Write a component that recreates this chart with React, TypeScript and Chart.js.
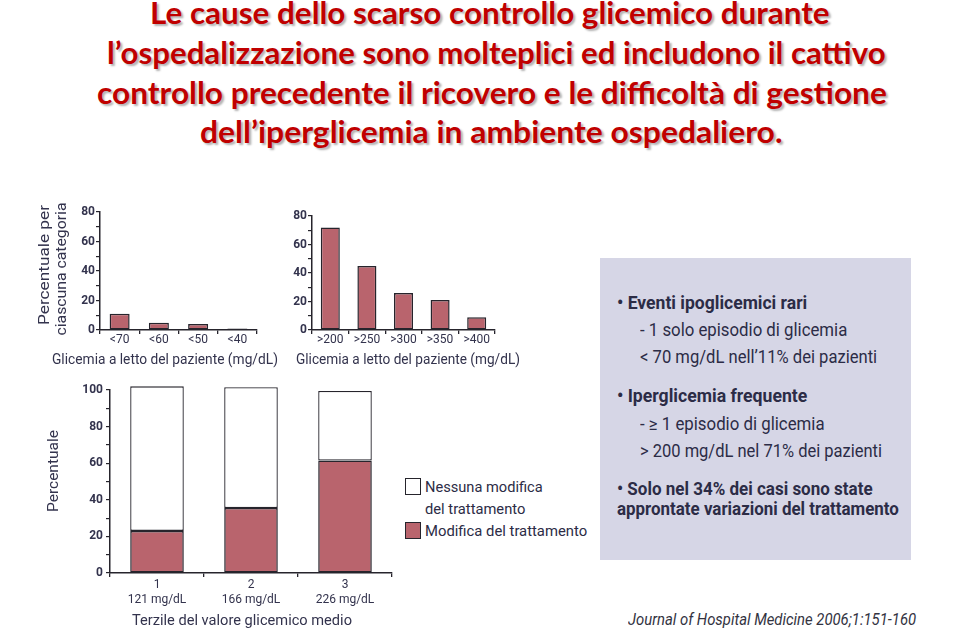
import React, { useEffect, useLayoutEffect, useRef, useState } from "react";
import { Chart, registerables } from "chart.js";

Chart.register(...registerables);

// ---------- data ----------
const hypoCategories = ["<70", "<60", "<50", "<40"];
const hypoValues = [11, 5, 4, 1];

const hyperCategories = [">200", ">250", ">300", ">350", ">400"];
const hyperValues = [72, 45, 26, 21, 9];

const tertileLabels = [
  ["1", "121 mg/dL"],
  ["2", "166 mg/dL"],
  ["3", "226 mg/dL"],
];
const modifiedValues = [23, 35.5, 61.5];
const unmodifiedValues = [79, 66, 38];

const seriesNames = ["Modifica del trattamento", "Nessuna modifica del trattamento"];
const bedsideAxisTitle = "Glicemia a letto del paziente (mg/dL)";
const tertileAxisTitle = "Terzile del valore glicemico medio";

const titleLines = [
  "Le cause dello scarso controllo glicemico durante",
  "l\u2019ospedalizzazione sono molteplici ed includono il cattivo",
  "controllo precedente il ricovero e le difficolt\u00e0 di gestione",
  "dell\u2019iperglicemia in ambiente ospedaliero.",
];

// ---------- style ----------
const AXIS = "#26242c";
const TEXT = "#33334d";
const BAR = "#b9646d";
const RED = "#c00000";
const FONT = 'Roboto, "Liberation Sans", sans-serif';

// condensed axis titles drawn on the canvas
const axisTitlePlugin = {
  id: "axisTitles",
  afterDraw(chart: any, _args: any, opts: any) {
    const ctx = chart.ctx;
    for (const t of opts.items || []) {
      ctx.save();
      ctx.font = `${t.weight || "normal"} ${t.size}px ${FONT}`;
      ctx.fillStyle = TEXT;
      ctx.textAlign = "center";
      ctx.textBaseline = "middle";
      const w = ctx.measureText(t.text).width;
      ctx.translate(t.x, t.y);
      if (t.rotate) ctx.rotate(-Math.PI / 2);
      ctx.scale(t.width / w, 1);
      ctx.fillText(t.text, 0, 0);
      ctx.restore();
    }
  },
};

type ChartSpec = {
  left: number;
  top: number;
  width: number;
  height: number;
  config: () => any;
};

function ChartBox({ left, top, width, height, config }: ChartSpec) {
  const ref = useRef<HTMLCanvasElement | null>(null);
  useEffect(() => {
    if (!ref.current) return;
    const chart = new Chart(ref.current, config());
    return () => chart.destroy();
  }, []);
  return (
    <div style={{ position: "absolute", left, top, width, height }}>
      <canvas ref={ref} width={width} height={height} style={{ width, height, display: "block" }} />
    </div>
  );
}

function scales(o: {
  yMax: number;
  yWidth: number;
  xHeight: number;
  yTickPad: number;
  stacked?: boolean;
  xTickPad: number;
}) {
  return {
    x: {
      stacked: !!o.stacked,
      border: { display: true, color: AXIS, width: 1.5 },
      grid: {
        display: true,
        drawOnChartArea: false,
        drawTicks: true,
        tickLength: 4,
        offset: true,
        color: AXIS,
        lineWidth: 1.3,
      },
      ticks: {
        autoSkip: false,
        maxRotation: 0,
        padding: o.xTickPad,
        color: TEXT,
        font: { family: FONT, size: 12, lineHeight: 1.2 },
      },
      afterFit: (s: any) => {
        s.height = o.xHeight;
      },
    },
    y: {
      stacked: !!o.stacked,
      min: 0,
      max: o.yMax,
      border: { display: true, color: AXIS, width: 1.5 },
      grid: {
        display: true,
        drawOnChartArea: false,
        drawTicks: true,
        tickLength: 4,
        color: AXIS,
        lineWidth: 1.2,
      },
      ticks: {
        stepSize: 10,
        autoSkip: false,
        padding: o.yTickPad,
        color: TEXT,
        font: { family: FONT, size: 12, weight: "bold" },
        callback: (v: number) => (v % 20 === 0 ? String(v) : ""),
      },
      afterFit: (s: any) => {
        s.width = o.yWidth;
      },
    },
  };
}

const basePlugins = { legend: { display: false }, tooltip: { enabled: false } };

const hypoChart: ChartSpec = {
  left: 0,
  top: 195,
  width: 280,
  height: 180,
  config: () => ({
    type: "bar",
    plugins: [axisTitlePlugin],
    data: {
      labels: hypoCategories,
      datasets: [
        {
          data: hypoValues,
          backgroundColor: BAR,
          borderColor: AXIS,
          borderWidth: 1.5,
          borderSkipped: false,
          barPercentage: 0.51,
          categoryPercentage: 1,
        },
      ],
    },
    options: {
      responsive: false,
      animation: false,
      events: [],
      layout: { padding: { top: 17, right: 23, left: 0, bottom: 0 } },
      plugins: {
        ...basePlugins,
        axisTitles: {
          items: [
            { text: bedsideAxisTitle, x: 165, y: 165, width: 226, size: 15 },
            { text: "Percentuale per", x: 45, y: 70, width: 120, size: 15, rotate: true },
            { text: "ciascuna categoria", x: 62, y: 74, width: 133, size: 15, rotate: true },
          ],
        },
      },
      scales: scales({ yMax: 80, yWidth: 100, xHeight: 45, yTickPad: 1, xTickPad: -1 }),
    },
  }),
};

const hyperChart: ChartSpec = {
  left: 280,
  top: 195,
  width: 250,
  height: 180,
  config: () => ({
    type: "bar",
    plugins: [axisTitlePlugin],
    data: {
      labels: hyperCategories,
      datasets: [
        {
          data: hyperValues,
          backgroundColor: BAR,
          borderColor: AXIS,
          borderWidth: 1.5,
          borderSkipped: false,
          barPercentage: 0.52,
          categoryPercentage: 1,
        },
      ],
    },
    options: {
      responsive: false,
      animation: false,
      events: [],
      layout: { padding: { top: 21, right: 35, left: 0, bottom: 0 } },
      plugins: {
        ...basePlugins,
        axisTitles: {
          items: [{ text: bedsideAxisTitle, x: 128, y: 165, width: 224, size: 15 }],
        },
      },
      scales: scales({ yMax: 80, yWidth: 32, xHeight: 45, yTickPad: 1, xTickPad: -1 }),
    },
  }),
};

const tertileChart: ChartSpec = {
  left: 30,
  top: 375,
  width: 370,
  height: 260,
  config: () => ({
    type: "bar",
    plugins: [axisTitlePlugin],
    data: {
      labels: tertileLabels,
      datasets: [
        {
          label: seriesNames[0],
          data: modifiedValues,
          backgroundColor: BAR,
          borderColor: AXIS,
          borderWidth: 1.5,
          borderSkipped: false,
          barPercentage: 0.57,
          categoryPercentage: 1,
        },
        {
          label: seriesNames[1],
          data: unmodifiedValues,
          backgroundColor: "#ffffff",
          borderColor: AXIS,
          borderWidth: 1.3,
          borderSkipped: false,
          barPercentage: 0.57,
          categoryPercentage: 1,
          clip: false,
        },
      ],
    },
    options: {
      responsive: false,
      animation: false,
      events: [],
      layout: { padding: { top: 15, right: 8, left: 0, bottom: 0 } },
      plugins: {
        ...basePlugins,
        axisTitles: {
          items: [
            { text: tertileAxisTitle, x: 212, y: 246, width: 220, size: 15 },
            { text: "Percentuale", x: 24, y: 96, width: 82, size: 15, rotate: true },
          ],
        },
      },
      scales: scales({ yMax: 100, yWidth: 80, xHeight: 62, yTickPad: 3, stacked: true, xTickPad: 1 }),
    },
  }),
};

// HTML text squeezed to a target width (condensed look)
function FitText({
  x,
  y,
  width,
  size,
  bold,
  italic,
  color,
  family,
  lineHeight,
  shadow,
  children,
}: {
  x: number;
  y: number;
  width: number;
  size: number;
  bold?: boolean;
  italic?: boolean;
  color?: string;
  family?: string;
  lineHeight?: number;
  shadow?: string;
  children: React.ReactNode;
}) {
  const ref = useRef<HTMLDivElement | null>(null);
  const [sx, setSx] = useState(1);
  const lh = lineHeight || Math.round(size * 1.25);
  useLayoutEffect(() => {
    const el = ref.current;
    if (!el) return;
    const measure = () => {
      const w = el.offsetWidth;
      if (w > 0) setSx(width / w);
    };
    measure();
    const f: any = (document as any).fonts;
    if (f && f.ready) f.ready.then(measure);
  }, []);
  return (
    <div
      ref={ref}
      style={{
        position: "absolute",
        left: x,
        top: y - lh / 2,
        whiteSpace: "nowrap",
        fontFamily: family || FONT,
        fontSize: size,
        fontWeight: bold ? 700 : 400,
        fontStyle: italic ? "italic" : "normal",
        color: color || "#2c2c46",
        lineHeight: `${lh}px`,
        transform: `scaleX(${sx})`,
        transformOrigin: "0 50%",
        textShadow: shadow,
      }}
    >
      {children}
    </div>
  );
}

export default function App() {
  useEffect(() => {
    document.body.style.margin = "0";
  }, []);
  const titleSpans = [
    [150, 680],
    [107, 779],
    [97, 790],
    [200, 583],
  ];
  const titleCenters = [12, 52, 92, 131];
  return (
    <div
      style={{
        position: "fixed",
        left: 0,
        top: 0,
        width: 959,
        height: 643,
        background: "#ffffff",
        overflow: "hidden",
      }}
    >
      {titleLines.map((t, i) => (
        <FitText
          key={i}
          x={titleSpans[i][0]}
          y={titleCenters[i]}
          width={titleSpans[i][1]}
          size={30}
          bold
          color={RED}
          family="Lato, 'Open Sans', sans-serif"
          lineHeight={40}
          shadow="2px 2px 2px rgba(0,0,0,0.3)"
        >
          {t}
        </FitText>
      ))}

      <ChartBox {...hypoChart} />
      <ChartBox {...hyperChart} />
      <ChartBox {...tertileChart} />

      {/* legend */}
      <div
        style={{
          position: "absolute",
          left: 405,
          top: 478,
          width: 16,
          height: 17,
          background: "#fff",
          border: `1.5px solid ${AXIS}`,
          boxSizing: "border-box",
        }}
      />
      <div
        style={{
          position: "absolute",
          left: 405,
          top: 522,
          width: 16,
          height: 17,
          background: BAR,
          border: `1.5px solid ${AXIS}`,
          boxSizing: "border-box",
        }}
      />
      <FitText x={425} y={487} width={118} size={15}>Nessuna modifica</FitText>
      <FitText x={425} y={509} width={100} size={15}>del trattamento</FitText>
      <FitText x={425} y={531} width={162} size={15}>{seriesNames[0]}</FitText>

      {/* text box */}
      <div style={{ position: "absolute", left: 600, top: 258, width: 311, height: 302, background: "#d6d6e6" }} />
      <FitText x={617} y={302} width={190} size={18} bold>{"\u2022 Eventi ipoglicemici rari"}</FitText>
      <FitText x={640} y={329} width={207} size={18}>- 1 solo episodio di glicemia</FitText>
      <FitText x={640} y={356} width={237} size={18}>{"< 70 mg/dL nell\u201911% dei pazienti"}</FitText>
      <FitText x={617} y={395} width={190} size={18} bold>{"\u2022  Iperglicemia frequente"}</FitText>
      <FitText x={640} y={423} width={185} size={18}>{"- \u2265 1 episodio di glicemia"}</FitText>
      <FitText x={640} y={450} width={242} size={18}>{"> 200 mg/dL nel 71% dei pazienti"}</FitText>
      <FitText x={617} y={488} width={256} size={18} bold>{"\u2022 Solo nel 34% dei casi sono state"}</FitText>
      <FitText x={617} y={508} width={282} size={18} bold>approntate variazioni del trattamento</FitText>

      {/* source */}
      <FitText x={628} y={620} width={288} size={16} italic color="#33333f">
        Journal of Hospital Medicine 2006;1:151-160
      </FitText>
    </div>
  );
}
